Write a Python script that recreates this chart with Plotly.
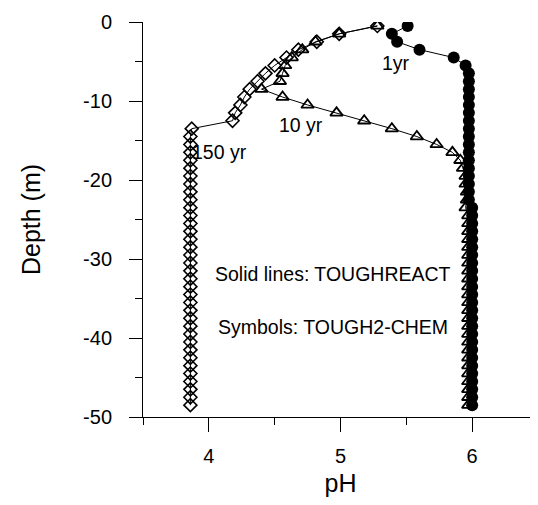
import plotly.graph_objects as go

# depth of grid-block centres (m)
depth = [-0.5 - i for i in range(49)]

# 1 yr (filled circles)
ph_1yr = [5.51, 5.39, 5.43, 5.60, 5.86, 5.95] + [5.975] * 17 + [6.0] * 26
# 10 yr (open triangles)
ph_10yr = [5.28, 4.99, 4.81, 4.71, 4.63, 4.58, 4.56, 4.54, 4.40, 4.56,
           4.75, 4.97, 5.18, 5.39, 5.58, 5.73, 5.85, 5.91, 5.93, 5.95,
           5.95, 5.96, 5.96, 5.95] + [5.97] * 25
# 150 yr (open diamonds)
ph_150yr = [5.28, 4.99, 4.82, 4.68, 4.59, 4.50, 4.43, 4.37, 4.31, 4.27,
            4.24, 4.20, 4.18, 3.87] + [3.86] * 35

x_ticks = [4, 5, 6]
x_minor = [3.5, 4.5, 5.5, 6.5]
y_ticks = [0, -10, -20, -30, -40, -50]
y_minor = [-5, -15, -25, -35, -45]

FONT = "Arial, Liberation Sans, sans-serif"

fig = go.Figure()
fig.add_trace(go.Scatter(x=ph_150yr, y=depth, mode="lines+markers",
                         line=dict(color="black", width=1),
                         marker=dict(symbol="diamond-open", size=10, color="black",
                                     line=dict(width=1.6, color="black")),
                         showlegend=False))
fig.add_trace(go.Scatter(x=ph_10yr, y=depth, mode="lines+markers",
                         line=dict(color="black", width=1),
                         marker=dict(symbol="triangle-up-open", size=11, color="black",
                                     line=dict(width=1.8, color="black")),
                         showlegend=False))
fig.add_trace(go.Scatter(x=ph_1yr, y=depth, mode="lines+markers",
                         line=dict(color="black", width=1),
                         marker=dict(symbol="circle", size=12, color="black"),
                         showlegend=False))

annots = [
    ("1yr", 5.42, -5.2),
    ("10 yr", 4.70, -13.0),
    ("150 yr", 4.08, -16.5),
    ("Solid lines: TOUGHREACT", 4.94, -31.9),
    ("Symbols: TOUGH2-CHEM", 4.94, -38.6),
]
for txt, ax_, ay_ in annots:
    fig.add_annotation(x=ax_, y=ay_, text=txt, showarrow=False,
                       font=dict(family=FONT, size=19.5, color="black"),
                       xanchor="center", yanchor="middle")

fig.update_layout(
    width=530, height=489,
    margin=dict(l=135, r=0, t=14, b=80),
    plot_bgcolor="white", paper_bgcolor="white",
    font=dict(family=FONT, color="black"),
    xaxis=dict(range=[3.5, 6.5], tickvals=x_ticks, ticktext=[str(v) for v in x_ticks],
               ticks="outside", ticklen=14, tickcolor="black", tickwidth=1,
               showline=True, linecolor="black", linewidth=1, showgrid=False,
               zeroline=False, tickfont=dict(size=20), ticklabelstandoff=7,
               minor=dict(tickvals=x_minor, ticks="outside", ticklen=7,
                          tickcolor="black", showgrid=False),
               title=dict(text="pH", font=dict(size=25), standoff=10)),
    yaxis=dict(range=[-50, 0], tickvals=y_ticks, ticktext=[str(v) for v in y_ticks],
               ticks="outside", ticklen=13, tickcolor="black", tickwidth=1,
               showline=True, linecolor="black", linewidth=1, showgrid=False,
               zeroline=False, tickfont=dict(size=20), ticklabelstandoff=13,
               minor=dict(tickvals=y_minor, ticks="outside", ticklen=7,
                          tickcolor="black", showgrid=False),
               title=dict(text="Depth (m)", font=dict(size=25), standoff=35)),
)

fig.write_html("out.html")
